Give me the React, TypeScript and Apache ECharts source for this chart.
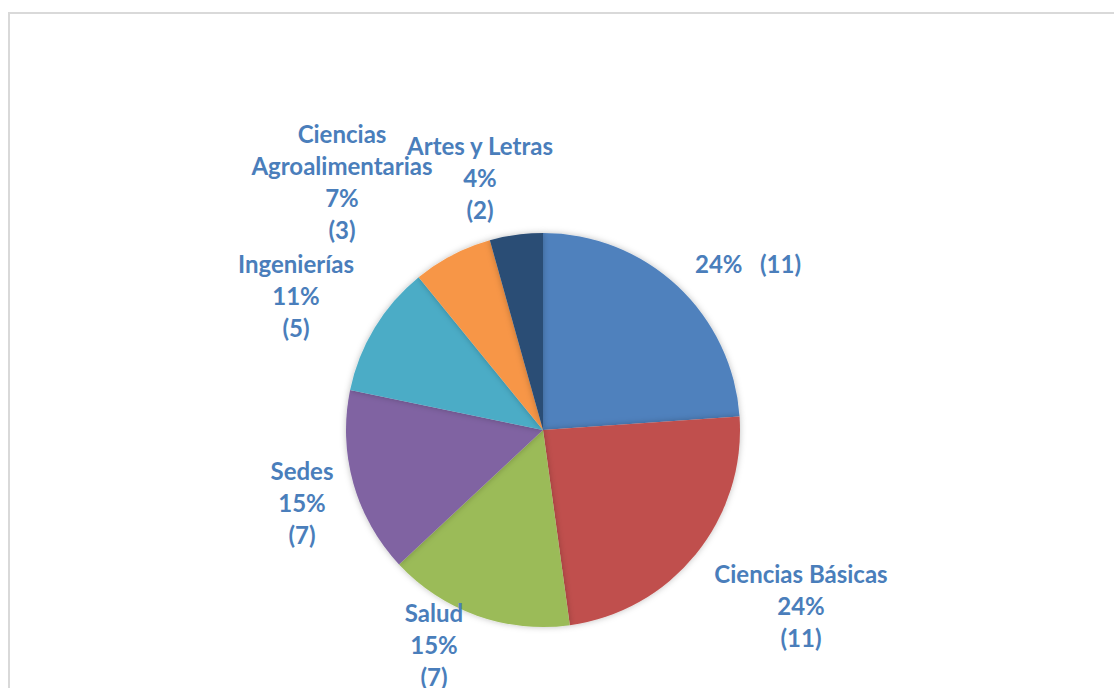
import React, { useEffect, useRef } from "react";
import * as echarts from "echarts";

const categories = ["", "Ciencias Básicas", "Salud", "Sedes", "Ingenierías", "Ciencias Agroalimentarias", "Artes y Letras"];
const values = [11, 11, 7, 7, 5, 3, 2];
const colors = ["#4F81BD", "#C0504D", "#9BBB59", "#8064A2", "#4BACC6", "#F79646", "#2C4D75"];
const labelCenters = [
  [748, 263],
  [801, 605],
  [434, 644],
  [302, 502],
  [296, 295],
  [342, 181],
  [480, 177],
];

export default function App() {
  const ref = useRef<HTMLDivElement>(null);
  useEffect(() => {
    if (!ref.current) return;
    const chart = echarts.init(ref.current, null, { renderer: "svg" });
    const total = values.reduce((a, b) => a + b, 0);
    chart.setOption({
      animation: false,
      backgroundColor: "#ffffff",
      graphic: [
        {
          type: "rect",
          shape: { x: 9, y: 13, width: 1200, height: 800 },
          style: { fill: "none", stroke: "#d9d9d9", lineWidth: 2 },
          silent: true,
        },
      ],
      series: [
        {
          type: "pie",
          center: [543, 430],
          radius: 197,
          startAngle: 90,
          clockwise: true,
          data: categories.map((name, i) => ({
            name,
            value: values[i],
            itemStyle: { color: colors[i] },
          })),
          itemStyle: {
            borderWidth: 0,
            shadowBlur: 6,
            shadowColor: "rgba(0,0,0,0.25)",
          },
          label: {
            show: true,
            position: "outside",
            color: "#4A7EBB",
            fontFamily: "Lato",
            fontWeight: "bold",
            fontSize: 24,
            lineHeight: 32,
            align: "center",
            formatter: (p: any) => {
              const pct = Math.round((p.value / total) * 100);
              if (!p.name) return `${pct}%   (${p.value})`;
              const nm = p.name === "Ciencias Agroalimentarias" ? "Ciencias\nAgroalimentarias" : p.name;
              return `${nm}\n${pct}%\n(${p.value})`;
            },
          },
          labelLine: { show: false },
          labelLayout: (params: any) => {
            const c = labelCenters[params.dataIndex];
            return { x: c[0], y: c[1], align: "center", verticalAlign: "middle" };
          },
          emphasis: { disabled: true },
        },
      ],
    });
    return () => chart.dispose();
  }, []);
  return (
    <div
      ref={ref}
      style={{ position: "fixed", left: 0, top: 0, width: 1114, height: 688 }}
    />
  );
}
